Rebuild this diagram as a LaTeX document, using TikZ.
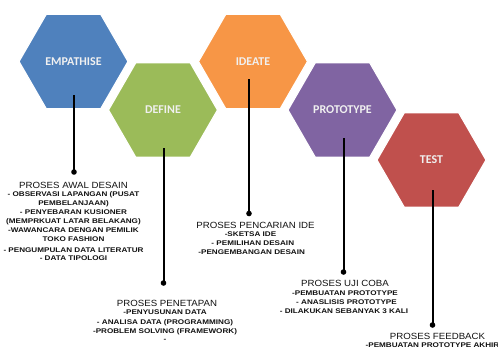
\documentclass[tikz,border=0pt]{standalone}
\usepackage{fontspec}
\setmainfont{Liberation Sans}
\newfontfamily\hexfont{Carlito}
\newfontfamily\itemfont[FakeStretch=1.2]{Liberation Sans}
\newfontfamily\titlefont[FakeStretch=1.08]{Liberation Sans}
\usetikzlibrary{shapes.geometric}
\definecolor{cE}{HTML}{4F81BD}
\definecolor{cD}{HTML}{9BBB59}
\definecolor{cI}{HTML}{F79646}
\definecolor{cP}{HTML}{8064A2}
\definecolor{cT}{HTML}{C0504D}
\definecolor{txt}{HTML}{111111}
\begin{document}
\begin{tikzpicture}[x=1bp,y=-1bp,
  hexa/.style={regular polygon, regular polygon sides=6, minimum size=109bp,
    inner sep=0pt, fill=#1, draw=white, line width=1.2bp,
    font=\hexfont\bfseries\fontsize{12}{14}\selectfont, text=white!94!black},
  conn/.style={line width=2bp, black},
  dotn/.style={circle, fill=black, inner sep=0pt, minimum size=5.6bp},
  ttl/.style={anchor=base, inner sep=0pt, text=txt, font=\titlefont\fontsize{9}{10}\selectfont},
  itm/.style={anchor=base, inner sep=0pt, text=txt, font=\itemfont\bfseries\fontsize{6.8}{8}\selectfont}]
\useasboundingbox (0,0) rectangle (498,352);
% hexagons
\node[hexa=cE] (E) at (73.5,61.5) {EMPATHISE};
\node[hexa=cD] (D) at (163,110) {DEFINE};
\node[hexa=cI] (I) at (253,61.5) {IDEATE};
\node[hexa=cP] (P) at (342.5,110) {PROTOTYPE};
\node[hexa=cT] (T) at (431.5,160) {TEST};
% connectors
\coordinate (e0) at (74,95);    \node[dotn] (ed) at (74,172) {};
\coordinate (d0) at (163.5,148); \node[dotn] (dd) at (163.5,283) {};
\coordinate (i0) at (249,79);   \node[dotn] (id) at (249,213.5) {};
\coordinate (p0) at (343.5,138);  \node[dotn] (pd) at (343.5,272) {};
\coordinate (t0) at (432.5,190); \node[dotn] (td) at (432.5,325) {};
\draw[conn] (e0) -- (ed.center);
\draw[conn] (d0) -- (dd.center);
\draw[conn] (i0) -- (id.center);
\draw[conn] (p0) -- (pd.center);
\draw[conn] (t0) -- (td.center);
% empathise text
\node[ttl] (eT) at (73.5,188.9) {PROSES AWAL DESAIN};
\node[itm] (e1) at (73.5,196.7) {- OBSERVASI LAPANGAN (PUSAT};
\node[itm] (e2) at (73.5,205.7) {PEMBELANJAAN)};
\node[itm] (e3) at (73.5,214.7) {- PENYEBARAN KUSIONER};
\node[itm] (e4) at (73.5,223.4) {(MEMPRKUAT LATAR BELAKANG)};
\node[itm] (e5) at (73.5,232.4) {-WAWANCARA DENGAN PEMILIK};
\node[itm] (e6) at (73.5,241.1) {TOKO FASHION};
\node[itm] (e7) at (73.5,252.4) {- PENGUMPULAN DATA LITERATUR};
\node[itm] (e8) at (73.5,260.7) {- DATA TIPOLOGI};
% define text
\node[ttl] (dT) at (167,306.5) {PROSES PENETAPAN};
\node[itm] (d1) at (165,314.7) {-PENYUSUNAN DATA};
\node[itm] (d2) at (165,324.1) {- ANALISA DATA (PROGRAMMING)};
\node[itm] (d3) at (165,333.1) {-PROBLEM SOLVING (FRAMEWORK)};
\node[itm] (d4) at (165,341.4) {-};
\node[circle, fill=black!55, inner sep=0pt, minimum size=1.3bp] (stray) at (287,312) {};
% ideate text
\node[ttl] (iT) at (255.5,228.2) {PROSES PENCARIAN IDE};
\node[itm] (i1) at (250.5,236.4) {-SKETSA IDE};
\node[itm] (i2) at (252.8,245.7) {- PEMILIHAN DESAIN};
\node[itm] (i3) at (251.7,254.7) {-PENGEMBANGAN DESAIN};
% prototype text
\node[ttl] (pT) at (345,286.5) {PROSES UJI COBA};
\node[itm] (p1) at (345,295.1) {-PEMBUATAN PROTOTYPE};
\node[itm] (p2) at (346.5,304.4) {- ANASLISIS PROTOTYPE};
\node[itm] (p3) at (344,313.4) {- DILAKUKAN SEBANYAK 3 KALI};
% test text
\node[ttl] (tT) at (437.5,339.9) {PROSES FEEDBACK};
\node[itm] (t1) at (432.5,347.6) {-PEMBUATAN PROTOTYPE AKHIR};
\end{tikzpicture}
\end{document}
